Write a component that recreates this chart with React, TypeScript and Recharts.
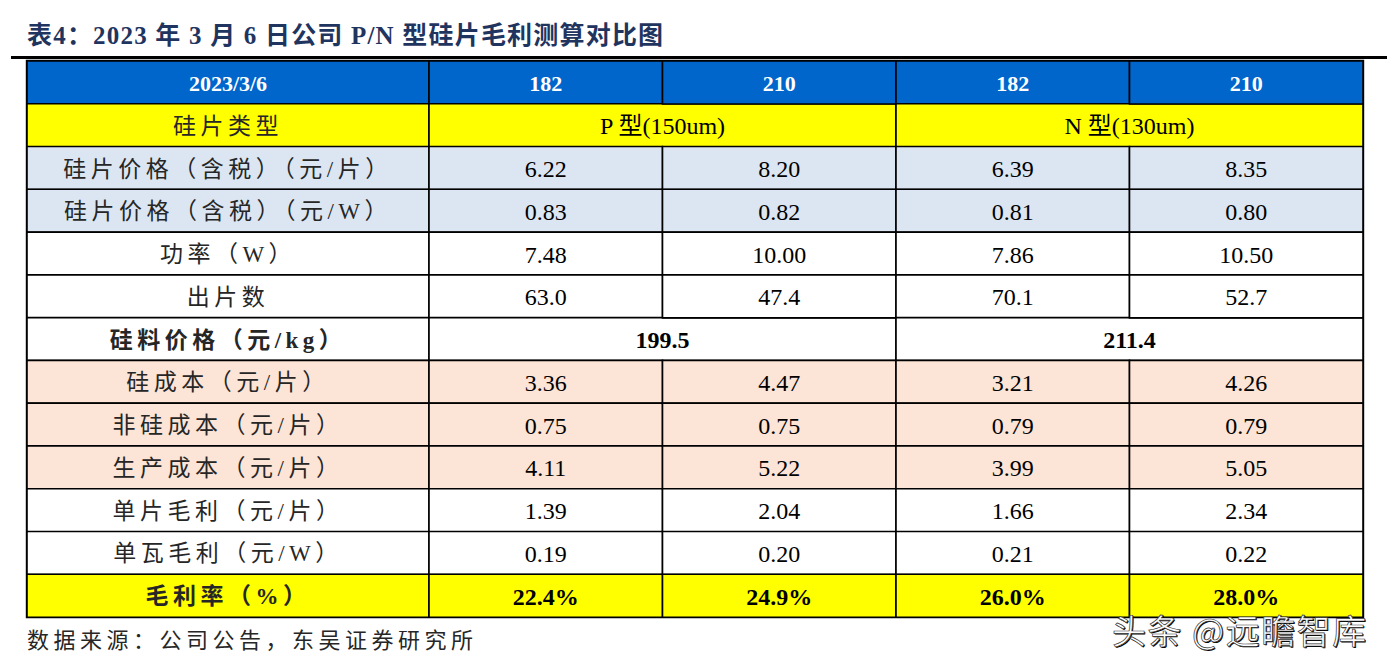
import { BarChart, Bar, XAxis, YAxis, Cell, LabelList, ReferenceArea } from "recharts";

// table text
const rowLabels = [
  "2023/3/6",
  "硅片类型",
  "硅片价格（含税）（元/片）",
  "硅片价格（含税）（元/W）",
  "功率（W）",
  "出片数",
  "硅料价格（元/kg）",
  "硅成本（元/片）",
  "非硅成本（元/片）",
  "生产成本（元/片）",
  "单片毛利（元/片）",
  "单瓦毛利（元/W）",
  "毛利率（%）",
];
const waferSizes = ["182", "210", "182", "210"];
const waferTypes = ["P 型(150um)", "N 型(130um)"];
const polyPrices = ["199.5", "211.4"];
const pType182 = ["6.22", "0.83", "7.48", "63.0", "3.36", "0.75", "4.11", "1.39", "0.19", "22.4%"];
const pType210 = ["8.20", "0.82", "10.00", "47.4", "4.47", "0.75", "5.22", "2.04", "0.20", "24.9%"];
const nType182 = ["6.39", "0.81", "7.86", "70.1", "3.21", "0.79", "3.99", "1.66", "0.21", "26.0%"];
const nType210 = ["8.35", "0.80", "10.50", "52.7", "4.26", "0.79", "5.05", "2.34", "0.22", "28.0%"];

// layout / style
const W = 1387;
const H = 667;
const TOP = 61;
const BOTTOM = 50;
const COL_W = [402, 233.5, 233.5, 233.5, 233.5];
const TOTAL = COL_W.reduce((a, b) => a + b, 0);
const ROW_H = (H - TOP - BOTTOM) / rowLabels.length;
const ROW_FILL = [
  "#0066CC", "#FFFF00", "#DCE6F2", "#DCE6F2", "#FFFFFF", "#FFFFFF", "#FFFFFF",
  "#FCE4D6", "#FCE4D6", "#FCE4D6", "#FFFFFF", "#FFFFFF", "#FFFF00",
];
const BOLD_ROWS = [0, 6, 12];
const SERIF = "'Liberation Serif', 'Times New Roman', 'Noto Sans CJK SC', serif";
const CJK = "'Liberation Serif', 'Noto Sans CJK SC', sans-serif";

const valueCols = [pType182, pType210, nType182, nType210];

const rows = rowLabels.map((label, i) => {
  const r: any = { key: label, t0: label, w0: COL_W[0] };
  if (i === 0) {
    waferSizes.forEach((s, c) => {
      r["w" + (c + 1)] = COL_W[c + 1];
      r["t" + (c + 1)] = s;
    });
  } else if (i === 1 || i === 6) {
    // merged cells
    const src = i === 1 ? waferTypes : polyPrices;
    r.w1 = COL_W[1] + COL_W[2];
    r.w2 = 0;
    r.w3 = COL_W[3] + COL_W[4];
    r.w4 = 0;
    r.t1 = src[0];
    r.t2 = "";
    r.t3 = src[1];
    r.t4 = "";
  } else {
    const k = i < 6 ? i - 2 : i - 3;
    valueCols.forEach((col, c) => {
      r["w" + (c + 1)] = COL_W[c + 1];
      r["t" + (c + 1)] = col[k];
    });
  }
  return r;
});

const cellText = (col: number) => (props: any) => {
  const { value } = props;
  const vb = props.viewBox || props;
  const x = props.x ?? vb.x;
  const y = props.y ?? vb.y;
  const width = props.width ?? vb.width;
  const height = props.height ?? vb.height;
  if (!value || !width) return null;
  // zero-width merged cells are skipped by the bar, so find the row from its band
  const row = Math.round((y - TOP) / ROW_H);
  const bold = BOLD_ROWS.includes(row);
  const isHeader = row === 0;
  const isLabel = col === 0 && row > 0;
  return (
    <text
      x={x + width / 2}
      y={y + height / 2 + 1}
      textAnchor="middle"
      dominantBaseline="central"
      fill={isHeader ? "#FFFFFF" : isLabel ? "#262626" : "#000"}
      fontFamily={isLabel ? CJK : SERIF}
      fontWeight={bold ? "bold" : "normal"}
      fontSize={isHeader ? 22 : isLabel ? 23 : 24}
      letterSpacing={isLabel ? 4.5 : 0}
    >
      {value}
    </text>
  );
};

export default function App() {
  return (
    <div style={{ position: "absolute", top: 0, left: 0, width: W, height: H, background: "#fff" }}>
      <div
        style={{
          position: "absolute",
          left: 27,
          top: 15,
          fontFamily: SERIF,
          fontWeight: "bold",
          fontSize: 25,
          letterSpacing: 1.2,
          color: "#1F3560",
          whiteSpace: "nowrap",
        }}
      >
        表4：2023 年 3 月 6 日公司 P/N 型硅片毛利测算对比图
      </div>
      <div style={{ position: "absolute", left: 11, right: 0, top: 56, height: 3, background: "#000" }} />
      <BarChart
        width={W}
        height={H}
        data={rows}
        layout="vertical"
        margin={{ top: TOP, right: W - 27 - TOTAL, bottom: BOTTOM, left: 27 }}
        barCategoryGap={0}
        barGap={0}
      >
        <XAxis type="number" domain={[0, TOTAL]} allowDataOverflow hide />
        <YAxis type="category" dataKey="key" hide />
        {[0, 1, 2, 3, 4].map((c) => (
          <Bar key={c} dataKey={"w" + c} stackId="t" isAnimationActive={false}>
            {rows.map((_, i) => (
              <Cell key={i} fill={ROW_FILL[i]} stroke="#000" strokeWidth={1.6} />
            ))}
            <LabelList dataKey={"t" + c} content={cellText(c)} />
          </Bar>
        ))}
        <ReferenceArea x1={0} x2={TOTAL} fill="none" stroke="#000" strokeWidth={2.4} ifOverflow="visible" />
      </BarChart>
      <div
        style={{
          position: "absolute",
          left: 27,
          top: 622,
          fontFamily: CJK,
          fontSize: 22,
          letterSpacing: 4.5,
          color: "#262626",
          whiteSpace: "nowrap",
        }}
      >
        数据来源：公司公告，东吴证券研究所
      </div>
      <div
        style={{
          position: "absolute",
          left: 1112,
          top: 613,
          fontFamily: "'Noto Sans CJK SC', sans-serif",
          fontSize: 34,
          lineHeight: 1,
          letterSpacing: 1.5,
          color: "#FFFFFF",
          WebkitTextStroke: "0.7px #333",
          textShadow: "1px 1px 0 #000",
          whiteSpace: "nowrap",
        }}
      >
        头条 @远瞻智库
      </div>
    </div>
  );
}
